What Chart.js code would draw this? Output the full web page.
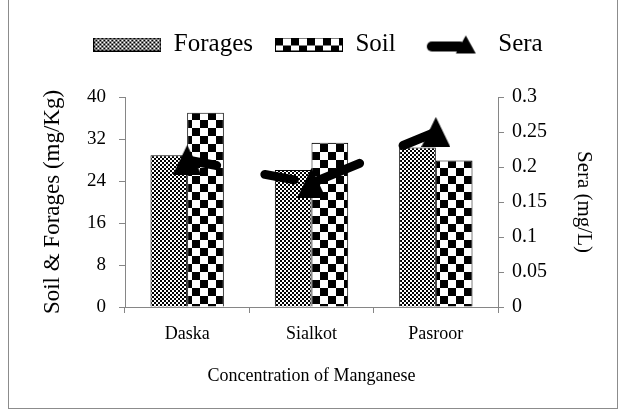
<!DOCTYPE html>
<html>
<head>
<meta charset="utf-8">
<script src="https://cdn.jsdelivr.net/npm/chart.js@4"></script>
<style>
  html, body { margin: 0; padding: 0; background: #fff; }
  #frame { position: absolute; left: 8px; top: -2px; width: 608px; height: 409px; border: 1px solid #8c8c8c; }
  #c { position: absolute; left: 0; top: 0; }
</style>
</head>
<body>
<div id="frame"></div>
<canvas id="c" width="626" height="415"></canvas>
<script>
// Manganese in forages / soil (left axis) and sera (right axis)
const categories    = ['Daska', 'Sialkot', 'Pasroor'];
const foragesValues = [28.9, 26.1, 30.4];
const soilValues    = [37.0, 31.3, 27.9];
const seraValues    = [0.21, 0.177, 0.25];
const leftTicks     = [0, 8, 16, 24, 32, 40];
const rightTicks    = [0, 0.05, 0.1, 0.15, 0.2, 0.25, 0.3];

const FONT = "'Liberation Serif', 'Times New Roman', serif";
const AXIS = '#868686';

function makeCanvas(w, h, draw) {
  const cv = document.createElement('canvas');
  cv.width = w; cv.height = h;
  draw(cv.getContext('2d'), w, h);
  return cv;
}

// fine checker for forages, coarse checker for soil
function checker(cell) {
  const tile = makeCanvas(cell * 2, cell * 2, (g) => {
    g.fillStyle = '#fff'; g.fillRect(0, 0, cell * 2, cell * 2);
    g.fillStyle = '#000';
    g.fillRect(0, 0, cell, cell);
    g.fillRect(cell, cell, cell, cell);
  });
  return document.createElement('canvas').getContext('2d').createPattern(tile, 'repeat');
}
const forageFill = checker(2);
const soilFill   = checker(8);

const triangle = makeCanvas(29, 30, (g, w, h) => {
  g.fillStyle = '#000';
  g.beginPath(); g.moveTo(w / 2, 0); g.lineTo(w, h); g.lineTo(0, h); g.closePath(); g.fill();
});

function swatch(fill) {
  return makeCanvas(68, 14, (g, w, h) => {
    g.fillStyle = fill; g.fillRect(0, 0, w, h);
    g.strokeStyle = '#000'; g.lineWidth = 1; g.strokeRect(0.5, 0.5, w - 1, h - 1);
  });
}
const seraIcon = makeCanvas(52, 20, (g) => {
  g.strokeStyle = '#000'; g.lineWidth = 10; g.lineCap = 'round';
  g.beginPath(); g.moveTo(6, 12); g.lineTo(34, 12); g.stroke();
  g.fillStyle = '#000';
  g.beginPath(); g.moveTo(40, 1); g.lineTo(50, 19); g.lineTo(30, 19); g.closePath(); g.fill();
});
const legendIcons = [swatch(forageFill), swatch(soilFill), seraIcon];

new Chart(document.getElementById('c'), {
  type: 'bar',
  data: {
    labels: categories,
    datasets: [
      { label: 'Forages', data: foragesValues, backgroundColor: forageFill, borderColor: '#000', borderWidth: 1, yAxisID: 'y', order: 1 },
      { label: 'Soil',    data: soilValues,    backgroundColor: soilFill,   borderColor: '#000', borderWidth: 1, yAxisID: 'y', order: 1 },
      {
        type: 'line', label: 'Sera', data: seraValues, yAxisID: 'y1', order: 0,
        borderColor: '#000', borderWidth: 9, borderCapStyle: 'round', tension: 0,
        pointStyle: triangle, pointRadius: 15, pointHoverRadius: 15,
        segment: { borderDash: ctx => ctx.p0DataIndex === 0 ? [30, 49] : [52, 47] }
      }
    ]
  },
  options: {
    responsive: false,
    animation: false,
    categoryPercentage: 0.59,
    barPercentage: 1,
    layout: { padding: { top: 10, left: 10, right: 0, bottom: 0 } },
    plugins: {
      title: { display: true, text: '', position: 'top', weight: 500, font: { size: 10, lineHeight: 1 }, padding: { top: 20, bottom: 0 } },
      legend: {
        position: 'top',
        labels: {
          usePointStyle: true, pointStyleWidth: 68, padding: 22, color: '#000',
          font: { family: FONT, size: 25 },
          sort: (a, b) => a.datasetIndex - b.datasetIndex,
          generateLabels: chart => {
            const items = Chart.defaults.plugins.legend.labels.generateLabels(chart);
            items.forEach(it => { it.pointStyle = legendIcons[it.datasetIndex]; });
            return items;
          }
        }
      },
      tooltip: { enabled: false }
    },
    scales: {
      x: {
        afterFit: s => { s.height = 108; },
        grid: { offset: true, drawOnChartArea: false, tickLength: 6, color: AXIS },
        border: { color: AXIS },
        ticks: { color: '#000', padding: 10, font: { family: FONT, size: 18 } },
        title: { display: true, text: 'Concentration of Manganese', color: '#000', font: { family: FONT, size: 18 }, padding: { bottom: 28 } }
      },
      y: {
        position: 'left', min: 0, max: 40,
        afterFit: s => { s.width = 115; },
        afterBuildTicks: s => { s.ticks = leftTicks.map(v => ({ value: v })); },
        grid: { drawOnChartArea: false, tickLength: 6, color: AXIS },
        border: { color: AXIS },
        ticks: { color: '#000', padding: 13, font: { family: FONT, size: 19 } },
        title: { display: true, text: 'Soil & Forages (mg/Kg)', color: '#000', font: { family: FONT, size: 23 }, padding: { top: 29 } }
      },
      y1: {
        position: 'right', min: 0, max: 0.3,
        afterFit: s => { s.width = 128; },
        afterBuildTicks: s => { s.ticks = rightTicks.map(v => ({ value: v })); },
        grid: { drawOnChartArea: false, tickLength: 6, color: AXIS },
        border: { color: AXIS },
        ticks: { color: '#000', padding: 8, font: { family: FONT, size: 20 }, callback: v => String(+v.toFixed(2)) },
        title: { display: true, text: 'Sera (mg/L)', color: '#000', font: { family: FONT, size: 21 }, padding: { top: 30 } }
      }
    }
  }
});
</script>
</body>
</html>
